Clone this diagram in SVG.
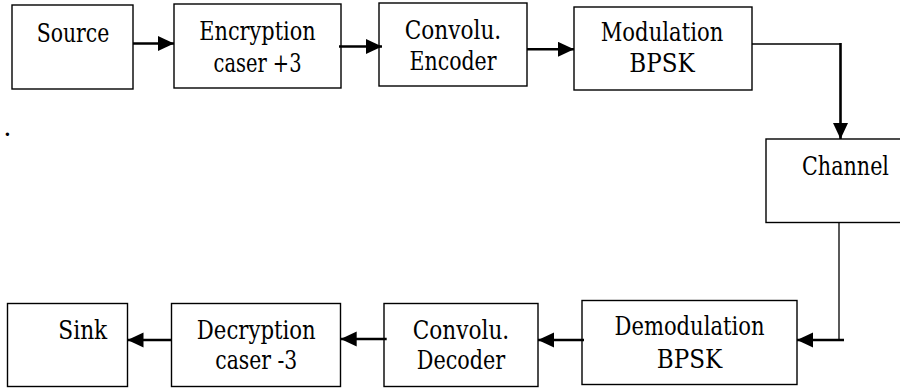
<svg xmlns="http://www.w3.org/2000/svg" width="900" height="388" viewBox="0 0 900 388">
<style>
.box{fill:#fff;stroke:#000;stroke-width:1.4}
.t{font-family:"DejaVu Serif",serif;font-size:26px;fill:#000;text-anchor:middle}
.thick{stroke:#000;stroke-width:2.6;fill:none}
.thin{stroke:#000;stroke-width:1.3;fill:none}
</style>
<defs>
<marker id="ah" markerUnits="userSpaceOnUse" markerWidth="17" markerHeight="16" refX="16" refY="7.5" orient="auto">
<path d="M0,0 L16,7.5 L0,15 z" fill="#000"/>
</marker>
</defs>
<rect width="900" height="388" fill="#fff"/>
<g id="source"><rect class="box" x="12" y="5" width="121" height="84"/><text class="t" x="73" y="41.5" textLength="72.7" lengthAdjust="spacingAndGlyphs">Source</text></g>
<g id="encryption"><rect class="box" x="174" y="4" width="167" height="84"/><text class="t" x="257.5" y="39.5" textLength="116.4" lengthAdjust="spacingAndGlyphs">Encryption</text><text class="t" x="257.5" y="71.5" textLength="88" lengthAdjust="spacingAndGlyphs">caser +3</text></g>
<g id="conv-encoder"><rect class="box" x="379" y="3" width="148" height="83"/><text class="t" x="453" y="38.5" textLength="96.5" lengthAdjust="spacingAndGlyphs">Convolu.</text><text class="t" x="453" y="69.5" textLength="87" lengthAdjust="spacingAndGlyphs">Encoder</text></g>
<g id="modulation"><rect class="box" x="574" y="7" width="178" height="83"/><text class="t" x="662" y="41" textLength="122.6" lengthAdjust="spacingAndGlyphs">Modulation</text><text class="t" x="662" y="71.5" textLength="65.5" lengthAdjust="spacingAndGlyphs">BPSK</text></g>
<g id="channel"><rect class="box" x="766" y="139" width="160" height="83.5"/><text class="t" x="845.5" y="175" textLength="87" lengthAdjust="spacingAndGlyphs">Channel</text></g>
<g id="demodulation"><rect class="box" x="582" y="300.5" width="215" height="84"/><text class="t" x="689.5" y="335" textLength="150" lengthAdjust="spacingAndGlyphs">Demodulation</text><text class="t" x="689.5" y="367.5" textLength="65.5" lengthAdjust="spacingAndGlyphs">BPSK</text></g>
<g id="conv-decoder"><rect class="box" x="384" y="303.5" width="154" height="83"/><text class="t" x="461" y="338.5" textLength="96.5" lengthAdjust="spacingAndGlyphs">Convolu.</text><text class="t" x="461" y="369" textLength="88.5" lengthAdjust="spacingAndGlyphs">Decoder</text></g>
<g id="decryption"><rect class="box" x="171.5" y="303.5" width="169" height="83"/><text class="t" x="256.3" y="338.5" textLength="119" lengthAdjust="spacingAndGlyphs">Decryption</text><text class="t" x="256.3" y="369" textLength="82" lengthAdjust="spacingAndGlyphs">caser -3</text></g>
<g id="sink"><rect class="box" x="7.5" y="303.5" width="120" height="83"/><text class="t" x="82.8" y="339.3" textLength="49" lengthAdjust="spacingAndGlyphs">Sink</text></g>
<text class="t" x="7.3" y="135.5">.</text>
<g id="connectors">
<line class="thick" x1="133" y1="43.5" x2="174" y2="43.5" marker-end="url(#ah)"/>
<line class="thick" x1="339" y1="46.5" x2="382" y2="46.5" marker-end="url(#ah)"/>
<line class="thick" x1="527" y1="49.3" x2="574" y2="49.3" marker-end="url(#ah)"/>
<line class="thin" x1="752" y1="44" x2="841" y2="44"/>
<line class="thick" x1="840.5" y1="43" x2="840.5" y2="139" marker-end="url(#ah)"/>
<line class="thin" x1="839" y1="222" x2="839" y2="341"/>
<line class="thick" x1="844" y1="340" x2="797" y2="340" marker-end="url(#ah)"/>
<line class="thick" x1="584" y1="340" x2="538" y2="340" marker-end="url(#ah)"/>
<line class="thick" x1="386.7" y1="339" x2="340.7" y2="339" marker-end="url(#ah)"/>
<line class="thick" x1="171.5" y1="340" x2="127.5" y2="340" marker-end="url(#ah)"/>
</g>
</svg>
